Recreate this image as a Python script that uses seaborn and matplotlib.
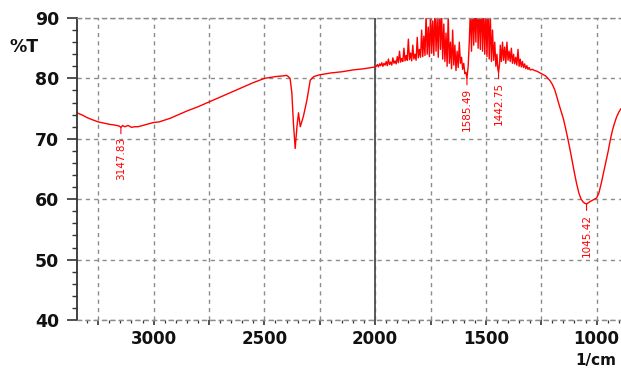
import numpy as np
import pandas as pd
import seaborn as sns
import matplotlib
matplotlib.use("Agg")
import matplotlib.pyplot as plt
from matplotlib.ticker import MultipleLocator, FuncFormatter

# ---- data ----
seg1_wn = [3346, 3320, 3300, 3280, 3250, 3225, 3200, 3180, 3165, 3155, 3147.83, 3140, 3130,
           3115, 3100, 3085, 3070, 3050, 3030, 3000, 2975, 2950, 2925, 2900, 2850, 2800,
           2750, 2700, 2650, 2600, 2550, 2500, 2450, 2420, 2400, 2392]
seg1_T = [74.3, 73.9, 73.5, 73.2, 72.8, 72.6, 72.4, 72.3, 72.2, 72.1, 71.9, 72.2, 72.0,
          72.2, 71.9, 72.0, 72.0, 72.2, 72.4, 72.7, 72.8, 73.1, 73.4, 73.8, 74.6, 75.3,
          76.1, 76.9, 77.7, 78.5, 79.3, 80.0, 80.3, 80.4, 80.5, 80.3]

seg2_wn = [2384, 2376, 2369, 2361, 2353, 2346, 2338, 2324, 2308, 2293, 2277, 2250,
           2200, 2150, 2100, 2050, 2000]
seg2_T = [80.0, 77.6, 72.6, 68.4, 72.0, 74.3, 72.0, 73.7, 76.4, 79.7, 80.3, 80.6,
          80.9, 81.1, 81.4, 81.6, 81.9]

seg3_wn = [1995, 1990, 1985, 1980, 1975, 1970, 1965, 1960, 1955, 1950, 1945, 1940, 1935,
           1930, 1925, 1920, 1915, 1910, 1905, 1900, 1895, 1890, 1885, 1880, 1875, 1870,
           1865, 1860, 1855, 1850, 1845, 1840, 1835, 1830, 1825, 1820, 1815, 1810, 1805,
           1800, 1795, 1790, 1785, 1780, 1775, 1770, 1765, 1760, 1755, 1750, 1745, 1740,
           1735, 1730, 1725, 1720, 1715, 1710, 1705, 1700, 1695, 1690, 1685, 1680, 1675,
           1670, 1665, 1660, 1655, 1650, 1645, 1640, 1635, 1630, 1625, 1620, 1615, 1610,
           1605, 1600, 1595, 1590, 1585.49, 1580, 1575, 1570, 1565, 1560, 1555, 1550, 1545,
           1540, 1535, 1530, 1525, 1520, 1515, 1510, 1505, 1500, 1495, 1490, 1485, 1480,
           1475, 1470, 1465, 1460, 1455, 1450, 1446, 1442.75, 1438, 1435, 1430, 1425, 1420,
           1415, 1410, 1405, 1400, 1395, 1390, 1385, 1380, 1375, 1370, 1365, 1360, 1355,
           1350, 1345, 1340, 1335, 1330, 1325, 1320, 1315, 1310, 1305, 1300, 1290, 1280,
           1270, 1260, 1250]
seg3_T = [82.0, 82.3, 81.9, 82.4, 82.1, 82.6, 82.0, 82.5, 82.2, 82.8, 82.1, 83.2, 82.3,
          82.7, 82.2, 83.4, 82.5, 82.9, 82.4, 83.6, 82.6, 84.5, 82.7, 83.3, 82.8, 85.0,
          82.9, 83.8, 83.0, 86.5, 83.1, 84.2, 82.9, 85.5, 83.2, 84.0, 83.0, 86.8, 83.4,
          84.8, 83.5, 88.0, 83.6, 87.0, 83.8, 90.5, 84.0, 88.5, 83.6, 91.0, 84.2, 89.5,
          83.8, 92.0, 84.5, 90.0, 83.5, 93.0, 84.8, 91.0, 83.2, 89.0, 82.8, 87.5, 82.0,
          90.5, 82.5, 86.0, 81.6, 88.0, 82.2, 85.5, 81.3, 84.5, 81.8, 86.0, 82.5, 83.5,
          81.5, 82.5, 80.8, 81.0, 80.0, 82.0, 86.0, 91.5, 84.5, 93.0, 85.5, 92.0, 86.0,
          94.0, 85.0, 92.5, 84.8, 93.5, 84.5, 92.0, 84.0, 91.5, 83.6, 93.0, 83.2, 90.5,
          82.8, 88.0, 83.0, 86.0, 82.0, 84.0, 81.5, 81.0, 82.5, 85.5, 82.8, 86.0, 83.0,
          85.2, 82.5, 86.0, 83.0, 84.5, 82.8, 85.0, 82.5, 84.0, 82.4, 83.5, 82.2, 84.8,
          82.0, 83.2, 81.9, 82.8, 81.8, 82.4, 81.6, 82.1, 81.5, 81.8, 81.4, 81.5, 81.3,
          81.2, 81.0, 80.8]

seg4_wn = [1240, 1230, 1220, 1210, 1200, 1190, 1180, 1170, 1160, 1150, 1140, 1130, 1120,
           1110, 1100, 1090, 1080, 1070, 1060, 1052, 1045.42, 1038, 1030, 1020, 1010, 1000,
           990, 980, 970, 962, 955, 947, 940, 930, 920, 910, 900, 890]
seg4_T = [80.6, 80.4, 80.0, 79.6, 79.0, 78.2, 77.0, 75.7, 74.5, 73.3, 71.7, 70.0, 68.2,
          66.2, 64.3, 62.5, 61.0, 60.0, 59.5, 59.3, 59.2, 59.4, 59.6, 59.8, 60.0, 60.2,
          61.0, 62.5, 64.2, 65.5, 66.8, 68.1, 69.5, 71.2, 72.5, 73.6, 74.4, 75.0]

peak_labels = ["3147.83", "1585.49", "1442.75", "1045.42"]
peak_wn = [3147.83, 1585.49, 1442.75, 1045.42]

x_ticks_labeled = [3000, 2500, 2000, 1500, 1000]

wn = seg1_wn + seg2_wn + seg3_wn + seg4_wn
T = seg1_T + seg2_T + seg3_T + seg4_T
df = pd.DataFrame({"wn": wn, "T": T})

# ---- style ----
sns.set_style("white")
plt.rcParams["font.family"] = ["DejaVu Sans"]

W, H = 621, 369
fig = plt.figure(figsize=(W / 100, H / 100), dpi=100)
ax = fig.add_axes([77 / W, 1 - 320 / H, 1 - 77 / W, (320 - 18) / H])

sns.lineplot(data=df, x="wn", y="T", ax=ax, color="#ff0000", lw=1.0,
             sort=False, estimator=None)

ax.set_xlim(3346, 890)
ax.set_ylim(40, 90)

ax.xaxis.set_major_locator(MultipleLocator(250))
ax.xaxis.set_minor_locator(MultipleLocator(50))
ax.xaxis.set_major_formatter(FuncFormatter(
    lambda v, p: f"{int(round(v))}" if int(round(v)) in x_ticks_labeled else ""))
ax.yaxis.set_major_locator(MultipleLocator(10))
ax.yaxis.set_minor_locator(MultipleLocator(2))

grid_kw = dict(color="#8c8c8c", ls=(0, (3, 3)), lw=1.0)
ax.grid(True, which="major", **grid_kw)
ax.axvline(2000, color="#4d4d4d", lw=1.3, zorder=1.5)

for s in ["top", "bottom"]:
    ax.spines[s].set_visible(True)
    ax.spines[s].set_color("#8c8c8c")
    ax.spines[s].set_linestyle((0, (3, 3)))
    ax.spines[s].set_linewidth(1.0)
ax.spines["right"].set_visible(False)
ax.spines["left"].set_color("#333333")
ax.spines["left"].set_linewidth(1.3)

ax.tick_params(axis="both", which="both", bottom=True, left=True, top=False,
               right=False, direction="out", colors="#333333")
ax.tick_params(axis="y", which="major", length=7, width=1.2, pad=6, labelsize=12.5,
               labelcolor="#111111")
ax.tick_params(axis="y", which="minor", length=3.6, width=1.0)
ax.tick_params(axis="x", which="major", length=3.5, width=1.2, pad=4, labelsize=12,
               labelcolor="#111111")
ax.tick_params(axis="x", which="minor", length=2.2, width=0.9)
for lbl in ax.get_xticklabels() + ax.get_yticklabels():
    lbl.set_fontweight("bold")

ax.set_xlabel("")
ax.set_ylabel("")

fig.text(24 / W, 1 - 47.5 / H, "%T", ha="center", va="center", fontsize=12.5,
         fontweight="bold", color="#111111")
fig.text(596 / W, 1 - 368.5 / H, "1/cm", ha="center", va="bottom", fontsize=11,
         fontweight="bold", color="#111111")

for lab, pw in zip(peak_labels, peak_wn):
    pt = np.interp(pw, df["wn"][::-1], df["T"][::-1])
    ax.annotate(lab, xy=(pw, pt), xytext=(0, -7), textcoords="offset points",
                rotation=90, ha="center", va="top", color="#ff0000", fontsize=7.5,
                arrowprops=dict(arrowstyle="-", color="#ff0000", lw=0.8,
                                shrinkA=0, shrinkB=0))

fig.savefig("out.png", dpi=100)
